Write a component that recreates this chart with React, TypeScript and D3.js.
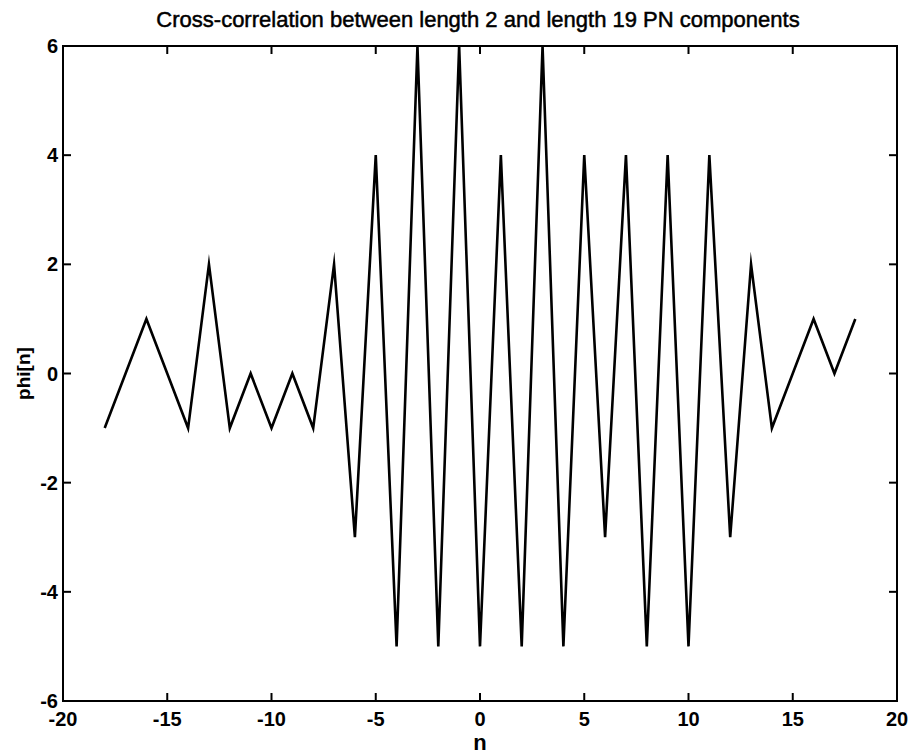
import React from "react";
import * as d3 from "d3";

const nValues = [-18,-17,-16,-15,-14,-13,-12,-11,-10,-9,-8,-7,-6,-5,-4,-3,-2,-1,0,1,2,3,4,5,6,7,8,9,10,11,12,13,14,15,16,17,18];
const phiValues = [-1,0,1,0,-1,2,-1,0,-1,0,-1,2,-3,4,-5,6,-5,6,-5,4,-5,6,-5,4,-3,4,-5,4,-5,4,-3,2,-1,0,1,0,1];
const xTicks = [-20,-15,-10,-5,0,5,10,15,20];
const yTicks = [-6,-4,-2,0,2,4,6];
const title = "Cross-correlation between length 2 and length 19 PN components";
const xLabel = "n";
const yLabel = "phi[n]";

export default function App() {
  const W = 917, H = 756;
  const L = 63, R = 897, T = 46, B = 701;
  const x = d3.scaleLinear().domain([-20, 20]).range([L, R]);
  const y = d3.scaleLinear().domain([-6, 6]).range([B, T]);
  const pts = nValues.map((n, i) => [n, phiValues[i]] as [number, number]);
  const line = d3.line<[number, number]>().x(d => x(d[0])).y(d => y(d[1]))(pts) || "";
  const font = "'Liberation Sans', Arial, Helvetica, sans-serif";
  const tl = 8;
  return (
    <svg width={W} height={H} style={{ position: "absolute", left: 0, top: 0, background: "#fff" }}>
      <rect x={0} y={0} width={W} height={H} fill="#fff" />
      <path d={line} fill="none" stroke="#000" strokeWidth={2.6} strokeLinejoin="miter" strokeMiterlimit={10} />
      <rect x={L} y={T} width={R - L} height={B - T} fill="none" stroke="#000" strokeWidth={2} />
      {xTicks.map(t => (
        <g key={"x" + t}>
          <line x1={x(t)} x2={x(t)} y1={B} y2={B - tl} stroke="#000" strokeWidth={2} />
          <line x1={x(t)} x2={x(t)} y1={T} y2={T + tl} stroke="#000" strokeWidth={2} />
          <text x={x(t)} y={726} textAnchor="middle" fontFamily={font} fontWeight="bold" fontSize={20}>{t}</text>
        </g>
      ))}
      {yTicks.map(t => (
        <g key={"y" + t}>
          <line x1={L} x2={L + tl} y1={y(t)} y2={y(t)} stroke="#000" strokeWidth={2} />
          <line x1={R} x2={R - tl} y1={y(t)} y2={y(t)} stroke="#000" strokeWidth={2} />
          <text x={58} y={y(t) + 7} textAnchor="end" fontFamily={font} fontWeight="bold" fontSize={20}>{t}</text>
        </g>
      ))}
      <text x={478} y={27} textAnchor="middle" fontFamily={font} fontSize={22} stroke="#000" strokeWidth={0.5}>{title}</text>
      <text x={480} y={750} textAnchor="middle" fontFamily={font} fontWeight="bold" fontSize={22}>{xLabel}</text>
      <text transform={`translate(30,${y(0)}) rotate(-90)`} textAnchor="middle" fontFamily={font} fontWeight="bold" fontSize={19}>{yLabel}</text>
    </svg>
  );
}
